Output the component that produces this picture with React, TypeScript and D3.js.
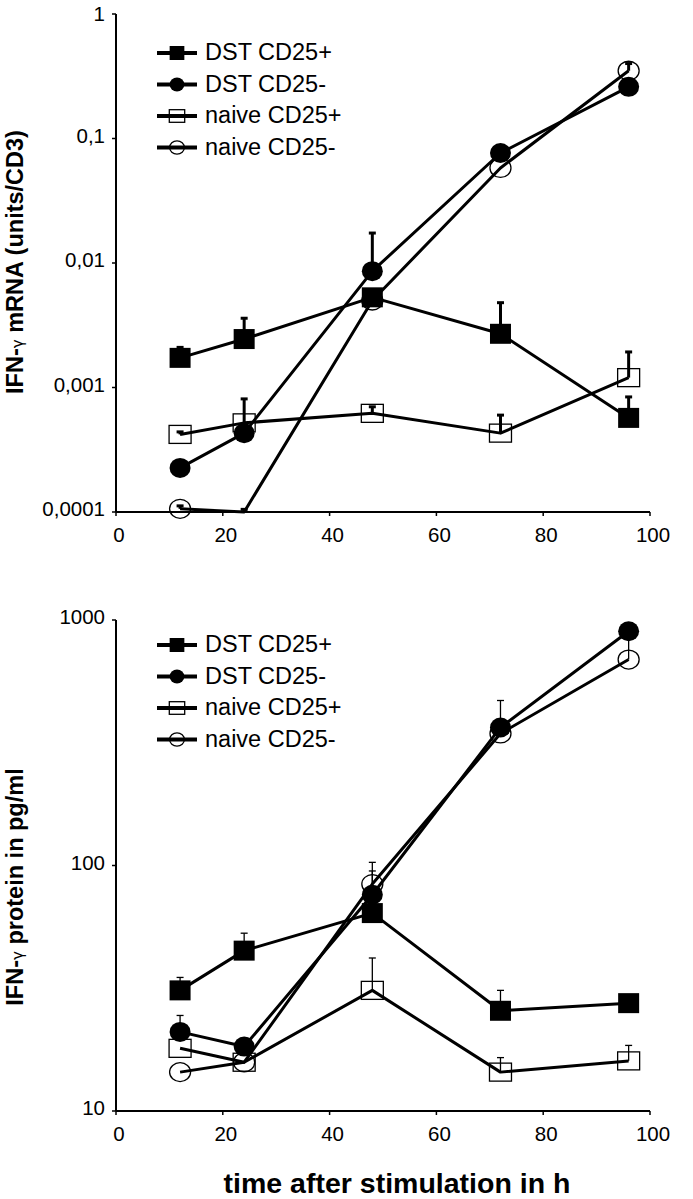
import React from "react";
import * as d3 from "d3";

const times = [12, 24, 48, 72, 96];
const seriesNames = ["DST CD25+", "DST CD25-", "naive CD25+", "naive CD25-"];

// mRNA (units/CD3)
const mrnaDstPos = [0.00173, 0.00245, 0.0053, 0.0027, 0.00057];
const mrnaDstPosErr = [0.0021, 0.0036, null, 0.0048, 0.00084];
const mrnaDstNeg = [0.000226, 0.00043, 0.0086, 0.0765, 0.26];
const mrnaDstNegErr = [null, null, 0.0174, null, null];
const mrnaNaivePos = [0.00042, 0.00052, 0.00062, 0.00043, 0.0012];
const mrnaNaivePosErr = [0.00044, 0.00081, 0.0007, 0.0006, 0.00193];
const mrnaNaiveNeg = [0.000106, 0.0001, 0.005, 0.058, 0.35];
const mrnaNaiveNegErr = [0.000112, 0.000105, null, null, 0.4];

// protein (pg/ml)
const protDstPos = [31, 45, 64, 25.6, 27.5];
const protDstPosErr = [35, 53, null, 31, null];
const protDstNeg = [21, 18.3, 76, 365, 900];
const protDstNegErr = [24.5, null, 103, 470, null];
const protNaivePos = [18, 15.8, 31, 14.4, 16];
const protNaivePosErr = [null, null, 42, 16.5, 18.5];
const protNaiveNeg = [14.4, 15.8, 84, 345, 690];
const protNaiveNegErr = [null, null, 95, null, 850];

const xTicks = [0, 20, 40, 60, 80, 100];
const mrnaTicks = [0.0001, 0.001, 0.01, 0.1, 1];
const mrnaTickLabels = ["0,0001", "0,001", "0,01", "0,1", "1"];
const protTicks = [10, 100, 1000];
const protTickLabels = ["10", "100", "1000"];

const FONT = "'Liberation Sans', Arial, Helvetica, sans-serif";

type Kind = "fsq" | "fci" | "osq" | "oci";
const kinds: Kind[] = ["fsq", "fci", "osq", "oci"];

function Marker({ kind, x, y, s = 1 }: { kind: Kind; x: number; y: number; s?: number }) {
  if (kind === "fsq") return <rect x={x - 10.5 * s} y={y - 10 * s} width={21 * s} height={20 * s} fill="#000" />;
  if (kind === "fci") return <ellipse cx={x} cy={y} rx={10.5 * s} ry={10 * s} fill="#000" />;
  if (kind === "osq")
    return <rect x={x - 11 * s} y={y - 9 * s} width={22 * s} height={18 * s} fill="none" stroke="#000" strokeWidth={1.3} />;
  return <ellipse cx={x} cy={y} rx={10.5 * s} ry={9.5 * s} fill="none" stroke="#000" strokeWidth={1.3} />;
}

function Panel({
  top,
  bottom,
  domain,
  ticks,
  tickLabels,
  values,
  errs,
  title,
  legendY,
  thickErr,
}: {
  top: number;
  bottom: number;
  domain: [number, number];
  ticks: number[];
  tickLabels: string[];
  values: number[][];
  errs: (number | null)[][];
  title: React.ReactNode;
  legendY: number;
  thickErr: boolean;
}) {
  const x = d3.scaleLinear().domain([0, 100]).range([116, 650]);
  const y = d3.scaleLog().domain(domain).range([bottom, top]);
  const order = [3, 2, 1, 0];
  const line = d3
    .line<number>()
    .x((_, i) => x(times[i]))
    .y((v) => y(v));
  const ymin = domain[0];
  return (
    <g>
      {/* axes */}
      <line x1={x(0)} x2={x(0)} y1={y(domain[1])} y2={y(domain[0])} stroke="#000" strokeWidth={2} />
      <line x1={x(0)} x2={x(100)} y1={y(domain[0])} y2={y(domain[0])} stroke="#000" strokeWidth={2} />
      {ticks.map((t, i) => (
        <g key={"yt" + i}>
          <line x1={x(0) - 4} x2={x(0)} y1={y(t)} y2={y(t)} stroke="#000" strokeWidth={1.5} />
          <text
            x={x(0) - 11}
            y={Math.max(y(t) - 1, 16)}
            textAnchor="end"
            dominantBaseline="middle"
            fontSize={20.5}
            fontFamily={FONT}
          >
            {tickLabels[i]}
          </text>
        </g>
      ))}
      {xTicks.map((t) => (
        <g key={"xt" + t}>
          <line x1={x(t)} x2={x(t)} y1={y(domain[0])} y2={y(domain[0]) + 4} stroke="#000" strokeWidth={1.5} />
          <text x={x(t) + 3} y={y(domain[0]) + 25} textAnchor="middle" dominantBaseline="middle" fontSize={20.5} fontFamily={FONT}>
            {t}
          </text>
        </g>
      ))}
      {title}
      {/* series */}
      {order.map((si) => (
        <g key={"s" + si}>
          <path d={line(values[si]) || ""} fill="none" stroke="#000" strokeWidth={3} strokeLinejoin="round" />
          {errs[si].map((e, i) =>
            e == null ? null : (
              <g key={"e" + i}>
                <line
                  x1={x(times[i])}
                  x2={x(times[i])}
                  y1={y(values[si][i])}
                  y2={y(e)}
                  stroke="#000"
                  strokeWidth={thickErr ? 3 : 1.3}
                />
                <line
                  x1={x(times[i]) - 3.5}
                  x2={x(times[i]) + 3.5}
                  y1={y(e)}
                  y2={y(e)}
                  stroke="#000"
                  strokeWidth={thickErr ? 3 : 1.3}
                />
              </g>
            )
          )}
          {values[si].map((v, i) =>
            v <= ymin ? null : <Marker key={"m" + i} kind={kinds[si]} x={x(times[i])} y={y(v)} />
          )}
        </g>
      ))}
      {/* legend */}
      {seriesNames.map((n, i) => {
        const ly = legendY + i * 31.5;
        return (
          <g key={"l" + i}>
            <line x1={157} x2={197} y1={ly} y2={ly} stroke="#000" strokeWidth={4} />
            <Marker kind={kinds[i]} x={177} y={ly} s={0.7} />
            <text x={205} y={ly + 1} dominantBaseline="middle" fontSize={23.5} fontFamily={FONT}>
              {n}
            </text>
          </g>
        );
      })}
    </g>
  );
}

export default function App() {
  return (
    <svg width={693} height={1199} style={{ position: "absolute", left: 0, top: 0, background: "#fff" }}>
      <rect width={693} height={1199} fill="#fff" />
      <Panel
        top={14}
        bottom={512}
        domain={[0.0001, 1]}
        ticks={mrnaTicks}
        tickLabels={mrnaTickLabels}
        values={[mrnaDstPos, mrnaDstNeg, mrnaNaivePos, mrnaNaiveNeg]}
        errs={[mrnaDstPosErr, mrnaDstNegErr, mrnaNaivePosErr, mrnaNaiveNegErr]}
        legendY={53}
        thickErr={true}
        title={
          <text
            transform="translate(23,262) rotate(-90)"
            textAnchor="middle"
            fontSize={23.5}
            fontWeight="bold"
            fontFamily={FONT}
          >
            IFN-<tspan fontSize={15} fontWeight="normal" fontFamily="'DejaVu Sans', sans-serif">γ</tspan> mRNA (units/CD3)
          </text>
        }
      />
      <Panel
        top={620}
        bottom={1111}
        domain={[10, 1000]}
        ticks={protTicks}
        tickLabels={protTickLabels}
        values={[protDstPos, protDstNeg, protNaivePos, protNaiveNeg]}
        errs={[protDstPosErr, protDstNegErr, protNaivePosErr, protNaiveNegErr]}
        legendY={645}
        thickErr={false}
        title={
          <text
            transform="translate(23,887) rotate(-90)"
            textAnchor="middle"
            fontSize={23.5}
            fontWeight="bold"
            fontFamily={FONT}
          >
            IFN-<tspan fontSize={15} fontWeight="normal" fontFamily="'DejaVu Sans', sans-serif">γ</tspan> protein in pg/ml
          </text>
        }
      />
      <text x={397} y={1193} textAnchor="middle" fontSize={28.5} fontWeight="bold" fontFamily={FONT}>
        time after stimulation in h
      </text>
    </svg>
  );
}
